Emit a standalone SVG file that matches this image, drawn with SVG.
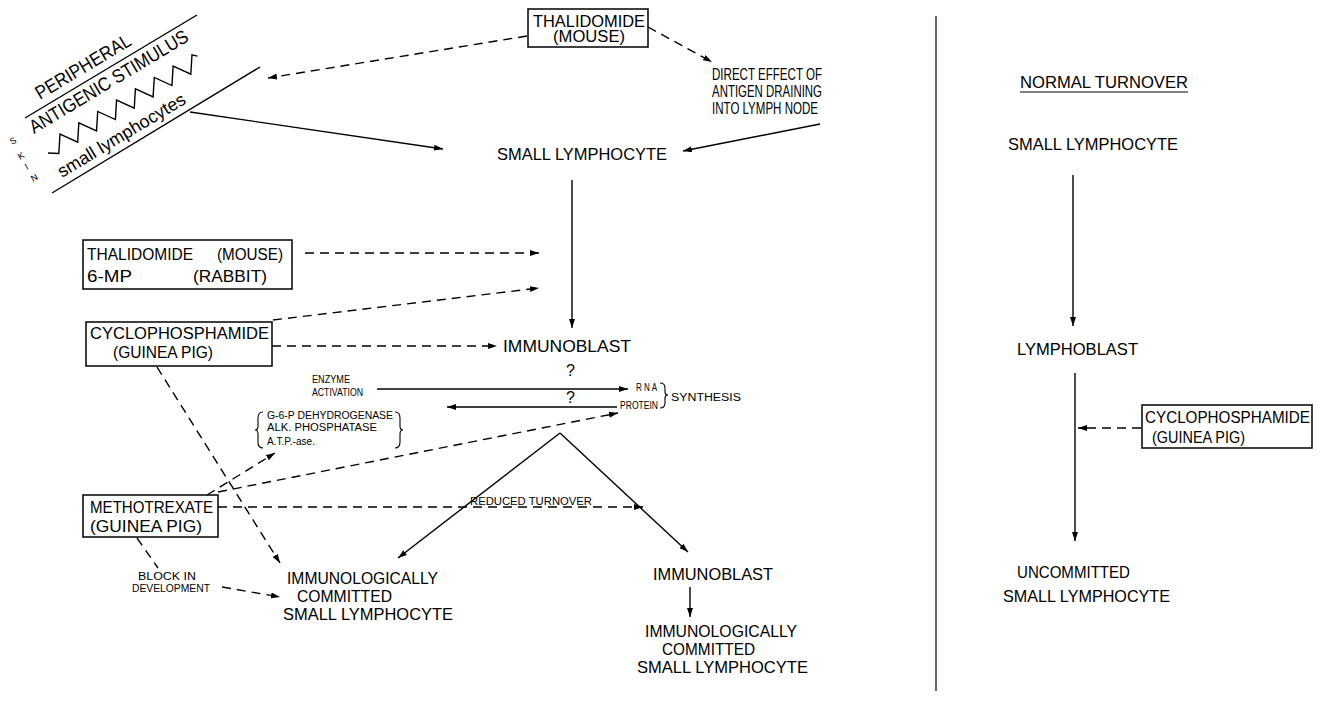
<svg xmlns="http://www.w3.org/2000/svg" width="1324" height="705" viewBox="0 0 1324 705">
<defs>
<marker id="ah" markerUnits="userSpaceOnUse" markerWidth="10" markerHeight="7" refX="9" refY="3" orient="auto">
<path d="M0,0 L9,3 L0,6 Z" fill="#000"/>
</marker>
<style>
text{font-family:"Liberation Sans",Arial,sans-serif;fill:#000}
.b{font-size:17px}
.m{font-size:16px}
.s{font-size:10px}
.box{fill:#fff;stroke:#000;stroke-width:1.5}
.sol{fill:none;stroke:#000;stroke-width:1.4}
.dsh{fill:none;stroke:#000;stroke-width:1.4;stroke-dasharray:9,6}
.arr{marker-end:url(#ah)}
</style>
</defs>
<rect width="1324" height="705" fill="#fff"/>

<g id="skin">
<line class="sol" x1="25" y1="118" x2="197" y2="15"/>
<line class="sol" x1="52" y1="193" x2="260" y2="67"/>
<text class="b" style="font-size:19px" transform="translate(40,100) rotate(-31)" textLength="108" lengthAdjust="spacingAndGlyphs">PERIPHERAL</text>
<text class="b" style="font-size:19px" transform="translate(34,134) rotate(-31)" textLength="182" lengthAdjust="spacingAndGlyphs">ANTIGENIC  STIMULUS</text>
<polyline class="sol" transform="translate(48,153) rotate(-31)" points="0,0 9,6 20,-10 31,6 42,-10 53,6 64,-10 75,6 86,-10 97,6 108,-10 119,6 130,-10 141,6 152,-10 163,6 174,-10 178,-6"/>
<text class="b" style="font-size:18px" transform="translate(62,178) rotate(-31)" textLength="146" lengthAdjust="spacingAndGlyphs">small  lymphocytes</text>
<text class="s" style="font-size:9px" transform="translate(12,145) rotate(-30)">S</text>
<text class="s" style="font-size:9px" transform="translate(20,160) rotate(-30)">K</text>
<text class="s" style="font-size:9px" transform="translate(27,170) rotate(-30)">I</text>
<text class="s" style="font-size:9px" transform="translate(33,182) rotate(-30)">N</text>
</g>

<g id="thal-top">
<rect class="box" x="528" y="9" width="120" height="38"/>
<text class="m" x="533" y="27" textLength="112" lengthAdjust="spacingAndGlyphs">THALIDOMIDE</text>
<text class="m" x="553" y="42" textLength="72" lengthAdjust="spacingAndGlyphs">(MOUSE)</text>
</g>

<g id="direct">
<text class="m" x="712" y="80" textLength="110" lengthAdjust="spacingAndGlyphs">DIRECT EFFECT OF</text>
<text class="m" x="712" y="97" textLength="110" lengthAdjust="spacingAndGlyphs">ANTIGEN DRAINING</text>
<text class="m" x="712" y="114" textLength="106" lengthAdjust="spacingAndGlyphs">INTO LYMPH NODE</text>
</g>

<g id="small-lymph">
<text class="b" x="497" y="160" textLength="170" lengthAdjust="spacingAndGlyphs">SMALL  LYMPHOCYTE</text>
</g>

<g id="thal-6mp">
<rect class="box" x="83" y="240" width="209" height="49"/>
<text class="m" x="87" y="260" textLength="106" lengthAdjust="spacingAndGlyphs">THALIDOMIDE</text>
<text class="m" x="217" y="260" textLength="66" lengthAdjust="spacingAndGlyphs">(MOUSE)</text>
<text class="m" x="87" y="282" textLength="45" lengthAdjust="spacingAndGlyphs">6-MP</text>
<text class="m" x="193" y="282" textLength="74" lengthAdjust="spacingAndGlyphs">(RABBIT)</text>
</g>

<g id="cyclo-left">
<rect class="box" x="86" y="322" width="186" height="44"/>
<text class="m" x="90" y="339" textLength="179" lengthAdjust="spacingAndGlyphs">CYCLOPHOSPHAMIDE</text>
<text class="m" x="113" y="358" textLength="100" lengthAdjust="spacingAndGlyphs">(GUINEA PIG)</text>
</g>

<g id="immunoblast">
<text class="b" x="503" y="352" textLength="128" lengthAdjust="spacingAndGlyphs">IMMUNOBLAST</text>
</g>

<g id="enzyme">
<text class="s" x="312" y="383" textLength="38" lengthAdjust="spacingAndGlyphs">ENZYME</text>
<text class="s" x="312" y="396" textLength="51" lengthAdjust="spacingAndGlyphs">ACTIVATION</text>
<path class="sol" d="M263,412 Q258,412 258,418 L258,426 Q258,430 255,430 Q258,430 258,434 L258,442 Q258,448 263,448" style="stroke-width:1.1"/>
<path class="sol" d="M395,412 Q400,412 400,418 L400,426 Q400,430 403,430 Q400,430 400,434 L400,442 Q400,448 395,448" style="stroke-width:1.1"/>
<text class="s" x="267" y="419" textLength="126" lengthAdjust="spacingAndGlyphs">G-6-P DEHYDROGENASE</text>
<text class="s" x="267" y="431" textLength="110" lengthAdjust="spacingAndGlyphs">ALK. PHOSPHATASE</text>
<text class="s" x="267" y="445" textLength="48" lengthAdjust="spacingAndGlyphs">A.T.P.-ase.</text>
</g>

<g id="synthesis">
<text class="s" x="636" y="391" textLength="21" lengthAdjust="spacingAndGlyphs">R N A</text>
<text class="s" x="620" y="409" textLength="38" lengthAdjust="spacingAndGlyphs">PROTEIN</text>
<path class="sol" d="M660,383 Q665,383 665,388 L665,392 Q665,395 668,395 Q665,395 665,398 L665,403 Q665,408 660,408" style="stroke-width:1.1"/>
<text class="s" x="671" y="401" textLength="70" lengthAdjust="spacingAndGlyphs">SYNTHESIS</text>
</g>

<g id="q1"><text class="m" x="566" y="376">?</text></g>
<g id="q2"><text class="m" x="566" y="403">?</text></g>

<g id="methotrexate">
<rect class="box" x="83" y="495" width="135" height="42"/>
<text class="b" x="90" y="513" textLength="123" lengthAdjust="spacingAndGlyphs">METHOTREXATE</text>
<text class="b" x="90" y="532" textLength="112" lengthAdjust="spacingAndGlyphs">(GUINEA PIG)</text>
</g>

<g id="reduced">
<text class="s" x="470" y="505" textLength="122" lengthAdjust="spacingAndGlyphs">REDUCED   TURNOVER</text>
</g>

<g id="block">
<text class="s" x="138" y="580" textLength="58" lengthAdjust="spacingAndGlyphs">BLOCK   IN</text>
<text class="s" x="132" y="592" textLength="78" lengthAdjust="spacingAndGlyphs">DEVELOPMENT</text>
</g>

<g id="committed-left">
<text class="b" x="287" y="584" textLength="151" lengthAdjust="spacingAndGlyphs">IMMUNOLOGICALLY</text>
<text class="b" x="297" y="602" textLength="95" lengthAdjust="spacingAndGlyphs">COMMITTED</text>
<text class="b" x="283" y="620" textLength="170" lengthAdjust="spacingAndGlyphs">SMALL  LYMPHOCYTE</text>
</g>

<g id="immunoblast2">
<text class="b" x="653" y="580" textLength="120" lengthAdjust="spacingAndGlyphs">IMMUNOBLAST</text>
</g>

<g id="committed-right">
<text class="b" x="645" y="637" textLength="152" lengthAdjust="spacingAndGlyphs">IMMUNOLOGICALLY</text>
<text class="b" x="662" y="655" textLength="93" lengthAdjust="spacingAndGlyphs">COMMITTED</text>
<text class="b" x="637" y="673" textLength="171" lengthAdjust="spacingAndGlyphs">SMALL  LYMPHOCYTE</text>
</g>

<g id="divider"><line class="sol" x1="936" y1="16" x2="936" y2="691" style="stroke-width:1.2"/></g>

<g id="normal">
<text class="m" x="1020" y="88" textLength="168" lengthAdjust="spacingAndGlyphs">NORMAL  TURNOVER</text>
<line class="sol" x1="1020" y1="92" x2="1188" y2="92" style="stroke-width:1.2"/>
</g>
<g id="small-lymph-r">
<text class="b" x="1008" y="150" textLength="170" lengthAdjust="spacingAndGlyphs">SMALL  LYMPHOCYTE</text>
</g>
<g id="lymphoblast">
<text class="b" x="1017" y="355" textLength="121" lengthAdjust="spacingAndGlyphs">LYMPHOBLAST</text>
</g>
<g id="cyclo-right">
<rect class="box" x="1142" y="405" width="170" height="43"/>
<text class="m" x="1145" y="423" textLength="165" lengthAdjust="spacingAndGlyphs">CYCLOPHOSPHAMIDE</text>
<text class="m" x="1152" y="443" textLength="93" lengthAdjust="spacingAndGlyphs">(GUINEA PIG)</text>
</g>
<g id="uncommitted">
<text class="b" x="1017" y="578" textLength="113" lengthAdjust="spacingAndGlyphs">UNCOMMITTED</text>
<text class="b" x="1003" y="602" textLength="167" lengthAdjust="spacingAndGlyphs">SMALL  LYMPHOCYTE</text>
</g>

<g id="connectors">
<line class="sol arr" x1="190" y1="112" x2="443" y2="149"/>
<line class="dsh arr" x1="527" y1="36" x2="268" y2="78"/>
<line class="dsh arr" x1="648" y1="27" x2="712" y2="62"/>
<line class="sol arr" x1="820" y1="124" x2="683" y2="151"/>
<line class="sol arr" x1="572" y1="180" x2="572" y2="328"/>
<line class="dsh arr" x1="305" y1="253" x2="539" y2="253"/>
<line class="dsh arr" x1="273" y1="320" x2="539" y2="288"/>
<line class="dsh arr" x1="272" y1="346" x2="497" y2="346"/>
<line class="dsh arr" x1="157" y1="367" x2="280" y2="563"/>
<line class="sol arr" x1="377" y1="389" x2="628" y2="389"/>
<line class="sol arr" x1="617" y1="407" x2="447" y2="407"/>
<line class="dsh arr" x1="207" y1="495" x2="275" y2="453"/>
<line class="dsh arr" x1="218" y1="492" x2="618" y2="413"/>
<line class="dsh arr" x1="218" y1="507" x2="643" y2="507"/>
<line class="sol arr" x1="560" y1="433" x2="398" y2="558"/>
<line class="sol arr" x1="560" y1="433" x2="688" y2="552"/>
<line class="sol arr" x1="690" y1="587" x2="690" y2="617"/>
<line class="dsh" x1="137" y1="538" x2="158" y2="568"/>
<line class="dsh arr" x1="222" y1="587" x2="280" y2="597"/>
<line class="sol arr" x1="1073" y1="175" x2="1073" y2="326"/>
<line class="sol arr" x1="1075" y1="373" x2="1075" y2="541"/>
<line class="dsh arr" x1="1141" y1="428" x2="1078" y2="428"/>
</g>
</svg>
